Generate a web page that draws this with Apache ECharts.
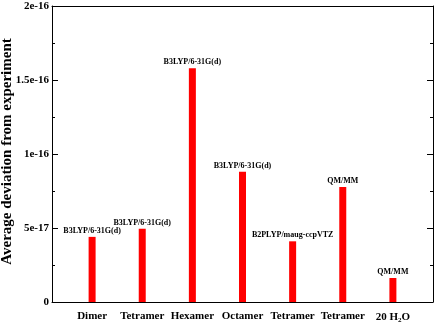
<!DOCTYPE html>
<html>
<head>
<meta charset="utf-8">
<script src="https://cdn.jsdelivr.net/npm/echarts@6/dist/echarts.min.js"></script>
<style>
    html, body { margin: 0; padding: 0; background: #fff; }
    #chart { width: 436px; height: 327px; }
</style>
</head>
<body>
<div id="chart"></div>
<script>
    // categories along x, one bar each
    const categories = ['Dimer', 'Tetramer', 'Hexamer', 'Octamer', 'Tetramer', 'Tetramer', '20 H{sub|2}O'];
    // method written above each bar
    const methods = ['B3LYP/6-31G(d)', 'B3LYP/6-31G(d)', 'B3LYP/6-31G(d)', 'B3LYP/6-31G(d)',
        'B2PLYP/maug-ccpVTZ', 'QM/MM', 'QM/MM'];
    // average deviation from experiment
    const deviations = [4.4e-17, 4.95e-17, 1.58e-16, 8.8e-17, 4.1e-17, 7.77e-17, 1.62e-17];
    const yTicks = [0, 5e-17, 1e-16, 1.5e-16, 2e-16];

    const font = 'Liberation Serif';
    const black = '#000';

    const fmtY = v => v === 0 ? '0' : Number(v.toPrecision(3)).toString();

    let chart = echarts.init(document.getElementById('chart'));

    let option = {
        animation: false,
        grid: {
            left: 52,
            right: 3,
            top: 6,
            bottom: 25,
            outerBoundsMode: 'none'
        },
        xAxis: [
            {
                type: 'value',
                min: 0.2,
                max: 7.8,
                splitLine: {show: false},
                axisLine: {onZero: false, lineStyle: {color: black, width: 1}},
                axisTick: {show: false},
                axisLabel: {
                    customValues: categories.map((c, i) => i + 1),
                    formatter: v => categories[Math.round(v) - 1] || '',
                    color: black,
                    fontFamily: font,
                    fontWeight: 'bold',
                    fontSize: 11,
                    margin: 9,
                    rich: {
                        sub: {
                            fontFamily: font,
                            fontWeight: 'bold',
                            fontSize: 7,
                            verticalAlign: 'bottom',
                            padding: [6, 0, 0, 0]
                        }
                    }
                }
            },
            {
                type: 'value',
                position: 'top',
                min: 0.2,
                max: 7.8,
                splitLine: {show: false},
                axisLine: {onZero: false, lineStyle: {color: black, width: 1}},
                axisTick: {show: false},
                axisLabel: {show: false}
            }
        ],
        yAxis: [
            {
                type: 'value',
                min: 0,
                max: yTicks[yTicks.length - 1],
                interval: 5e-17,
                name: 'Average deviation from experiment',
                nameLocation: 'middle',
                nameGap: 37,
                nameMoveOverlap: false,
                nameTextStyle: {
                    color: black,
                    fontFamily: font,
                    fontWeight: 'bold',
                    fontSize: 15,
                    padding: [0, 0, 0, 5]
                },
                splitLine: {show: false},
                axisLine: {show: true, onZero: false, lineStyle: {color: black, width: 1}},
                axisTick: {inside: true, length: 6, lineStyle: {color: black}},
                minorTick: {show: true, splitNumber: 2, length: 3, lineStyle: {color: black}},
                axisLabel: {
                    formatter: fmtY,
                    color: black,
                    fontFamily: font,
                    fontWeight: 'bold',
                    fontSize: 11,
                    margin: 3
                }
            },
            {
                type: 'value',
                position: 'right',
                min: 0,
                max: yTicks[yTicks.length - 1],
                interval: 5e-17,
                splitLine: {show: false},
                axisLine: {show: true, onZero: false, lineStyle: {color: black, width: 1}},
                axisTick: {inside: true, length: 6, lineStyle: {color: black}},
                minorTick: {show: true, splitNumber: 2, length: 3, lineStyle: {color: black}},
                axisLabel: {show: false}
            }
        ],
        series: [
            {
                type: 'bar',
                barWidth: 7,
                itemStyle: {color: '#ff0000'},
                data: deviations.map((d, i) => [i + 1, d]),
                label: {
                    show: true,
                    position: 'top',
                    distance: 2,
                    formatter: p => methods[p.dataIndex],
                    color: black,
                    fontFamily: font,
                    fontWeight: 'bold',
                    fontSize: 8
                }
            }
        ]
    };

    chart.setOption(option);
</script>
</body>
</html>
